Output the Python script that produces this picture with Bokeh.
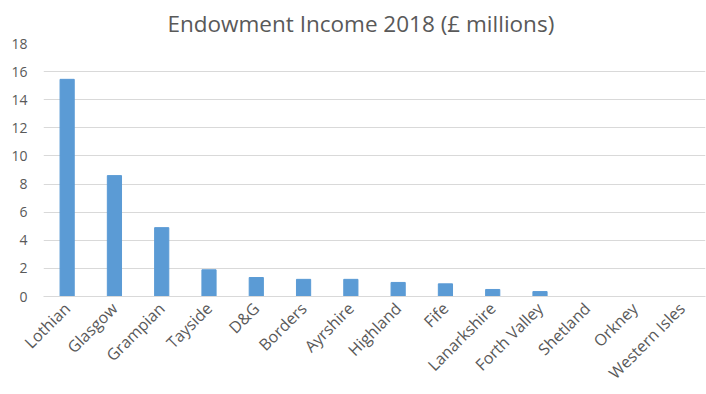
import math
from bokeh.plotting import figure
from bokeh.models import ColumnDataSource, SingleIntervalTicker, FactorRange
from bokeh.embed import file_html
from bokeh.resources import INLINE

regions = ["Lothian", "Glasgow", "Grampian", "Tayside", "D&G", "Borders", "Ayrshire",
           "Highland", "Fife", "Lanarkshire", "Forth Valley", "Shetland", "Orkney", "Western Isles"]
income = [15.45, 8.6, 4.9, 1.9, 1.35, 1.22, 1.22, 1.0, 0.9, 0.5, 0.35, 0, 0, 0]

src = ColumnDataSource(data=dict(region=regions, income=income))

p = figure(x_range=FactorRange(factors=regions, range_padding=0), y_range=(0, 18),
           width=706, height=394, output_backend="svg", toolbar_location=None,
           min_border_left=43, min_border_right=1, min_border_top=43, min_border_bottom=96)

p.vbar(x="region", top="income", width=0.3, source=src, color="#5B9BD5")

p.title.text = "Endowment Income 2018 (£ millions)"
p.title.align = "left"
p.title.offset = 124
p.title.standoff = 10
p.title.text_font = "Open Sans"
p.title.text_font_size = "22.5px"
p.title.text_font_style = "normal"
p.title.text_color = "#595959"

p.yaxis.ticker = SingleIntervalTicker(interval=2)
p.yaxis.axis_line_color = None
p.yaxis.major_tick_line_color = None
p.yaxis.major_tick_out = 0
p.yaxis.minor_tick_line_color = None
p.yaxis.minor_tick_out = 0
p.yaxis.major_label_text_font = "Open Sans"
p.yaxis.major_label_text_font_size = "14px"
p.yaxis.major_label_text_color = "#595959"
p.yaxis.major_label_standoff = 16

p.xaxis.axis_line_color = "#D9D9D9"
p.xaxis.major_tick_line_color = None
p.xaxis.major_tick_out = 0
p.xaxis.minor_tick_line_color = None
p.xaxis.major_label_orientation = math.pi / 4
p.xaxis.major_label_text_font = "Open Sans"
p.xaxis.major_label_text_font_size = "16px"
p.xaxis.major_label_text_color = "#595959"
p.xaxis.major_label_standoff = 9

p.xgrid.grid_line_color = None
p.ygrid.grid_line_color = "#D9D9D9"
p.ygrid.grid_line_width = 1
p.outline_line_color = None

open("out.html", "w").write(file_html(p, INLINE))
